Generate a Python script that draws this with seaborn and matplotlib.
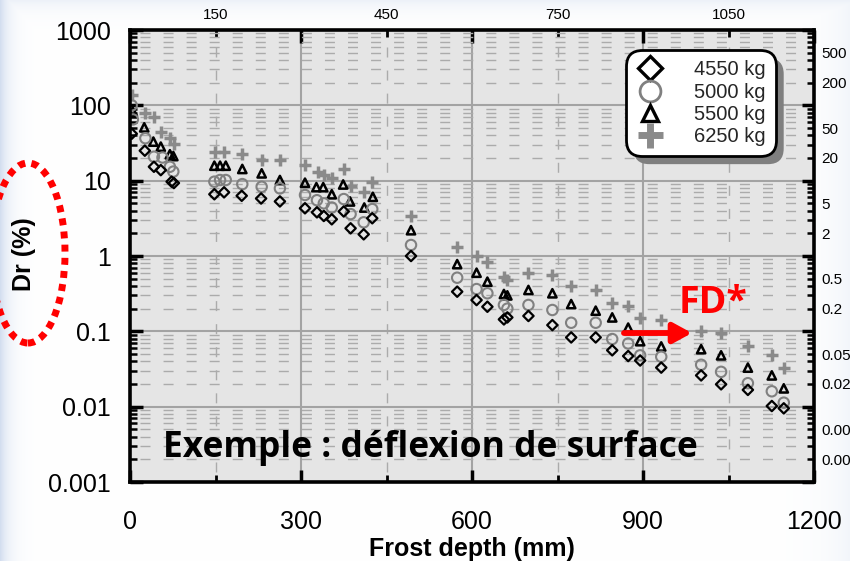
import numpy as np
import matplotlib
matplotlib.use("Agg")
import matplotlib.pyplot as plt
import seaborn as sns
from matplotlib.lines import Line2D
from matplotlib.patches import Ellipse, FancyBboxPatch
from matplotlib.ticker import LogLocator, NullFormatter, NullLocator
from matplotlib.transforms import IdentityTransform

# Deflection ratio Dr (%) against frost depth (mm), one series per axle load
depth_4550 = [3, 26, 42, 54, 73, 77, 148, 165, 196, 230, 263, 307, 328, 340, 354, 375, 387, 410, 425, 493,
              574, 608, 627, 656, 662, 699, 741, 774, 817, 846, 874, 895, 932, 1002, 1037, 1084, 1126, 1147]
dr_4550 = [42, 25, 15.3, 13.8, 9.7, 9.3, 6.6, 7.0, 6.3, 5.8, 5.3, 4.3, 3.8, 3.4, 3.07, 3.9, 2.33, 1.94, 3.17, 1.0,
           0.336, 0.26, 0.212, 0.144, 0.153, 0.16, 0.121, 0.083, 0.083, 0.056, 0.047, 0.041, 0.033, 0.026,
           0.0198, 0.0167, 0.0102, 0.0095]

depth_5000 = [3, 5, 27, 42, 57, 70, 76, 148, 158, 168, 197, 231, 263, 307, 328, 340, 354, 375, 387, 410, 425, 493,
              574, 608, 627, 656, 662, 699, 741, 774, 817, 846, 874, 895, 932, 1002, 1037, 1084, 1126, 1147]
dr_5000 = [100, 65, 36.6, 20.8, 20.3, 15.3, 13.2, 9.7, 10.2, 10.2, 9.0, 8.3, 7.9, 6.45, 5.5, 5.0, 4.4, 5.7, 3.6,
           2.8, 4.2, 1.4, 0.515, 0.364, 0.32, 0.224, 0.20, 0.224, 0.192, 0.13, 0.13, 0.079, 0.069, 0.048, 0.046,
           0.036, 0.029, 0.0205, 0.016, 0.0113]

depth_5500 = [5, 25, 41, 54, 70, 76, 148, 158, 168, 197, 231, 263, 307, 327, 339, 354, 374, 386, 411, 426, 493,
              574, 608, 627, 656, 662, 699, 741, 774, 817, 846, 874, 895, 932, 1002, 1037, 1084, 1126, 1147]
dr_5500 = [82, 51, 33, 28.3, 22.4, 21.2, 15.8, 15.8, 15.8, 14.3, 12.5, 10.2, 9.4, 8.2, 8.2, 6.6, 8.9, 5.3, 4.4,
           6.1, 2.2, 0.78, 0.60, 0.456, 0.313, 0.30, 0.354, 0.32, 0.23, 0.188, 0.153, 0.112, 0.074, 0.063,
           0.058, 0.048, 0.033, 0.026, 0.0175]

depth_6250 = [3, 26, 42, 54, 70, 77, 149, 165, 197, 231, 263, 307, 330, 341, 354, 376, 388, 410, 425, 493,
              574, 608, 627, 656, 662, 699, 741, 774, 817, 846, 874, 895, 932, 1002, 1037, 1084, 1126, 1147]
dr_6250 = [137, 78, 71, 44, 36.5, 30.6, 24.3, 24.3, 22.6, 18.8, 18.8, 16.2, 13.2, 11.9, 10.7, 14.4, 8.4, 7.0,
           9.6, 3.4, 1.33, 1.0, 0.82, 0.53, 0.48, 0.59, 0.56, 0.40, 0.35, 0.24, 0.22, 0.15, 0.141, 0.102,
           0.094, 0.063, 0.048, 0.033]

load_labels = ["4550 kg", "5000 kg", "5500 kg", "6250 kg"]

x_ticks = [0, 300, 600, 900, 1200]
x_top_ticks = [150, 450, 750, 1050]
y_ticks = [1e-3, 1e-2, 1e-1, 1, 10, 100, 1000]
y_tick_labels = ["0.001", "0.01", "0.1", "1", "10", "100", "1000"]
y_right_ticks = [500, 200, 50, 20, 5, 2, 0.5, 0.2, 0.05, 0.02, 0.005, 0.002]
y_right_labels = ["500", "200", "50", "20", "5", "2", "0.5", "0.2", "0.05", "0.02", "0.005", "0.002"]

sns.set_theme(style="white")
plt.rcParams["font.family"] = ["Liberation Sans", "DejaVu Sans"]

W, H = 850, 561
fig = plt.figure(figsize=(W / 100, H / 100), dpi=100)

# soft snowy backdrop, bluish towards the edges
bg = fig.add_axes([0, 0, 1, 1], zorder=-10)
gx, gy = np.meshgrid(np.arange(W), np.arange(H))
shade = np.maximum.reduce([
    0.85 * np.exp(-gx / 9.0),
    0.35 * np.exp(-gy / 10.0),
    0.25 * np.exp(-(W - 1 - gx) / 25.0),
])
base = np.array([1.0, 1.0, 1.0])
tint = np.array([0.80, 0.85, 0.93])
img = base[None, None, :] * (1 - shade[..., None]) + tint[None, None, :] * shade[..., None]
bg.imshow(img, aspect="auto", extent=(0, 1, 0, 1), origin="upper")
bg.axis("off")

ax = fig.add_axes([130 / W, 1 - 482 / H, 684 / W, 452 / H])
ax.set_facecolor("#e5e5e5")
ax.set_yscale("log")
ax.set_xlim(0, 1200)
ax.set_ylim(1e-3, 1e3)

# points
styles = [
    (depth_6250, dr_6250, "+", "#8a8a8a", 64, 2.5, False),
    (depth_5500, dr_5500, "^", "black", 36, 1.8, True),
    (depth_5000, dr_5000, "o", "#808080", 56, 1.5, True),
    (depth_4550, dr_4550, "D", "black", 28, 1.6, True),
]
for xs, ys, mk, col, size, lw, filled in styles:
    if filled:
        sns.scatterplot(x=xs, y=ys, marker=mk, s=size, color=col, facecolor="none",
                        edgecolor=col, linewidth=lw, ax=ax, legend=False, zorder=3)
    else:
        sns.scatterplot(x=xs, y=ys, marker=mk, s=size, color=col, linewidth=lw,
                        ax=ax, legend=False, zorder=3)
ax.set_xlabel("")
ax.set_ylabel("")

# grid: solid at decades / 300 mm, dashed at log minors / 150 mm offsets
ax.set_axisbelow(True)
ax.set_xticks(x_ticks, labels=[str(v) for v in x_ticks])
ax.set_xticks(x_top_ticks, labels=[str(v) for v in x_top_ticks], minor=True)
ax.set_yticks(y_ticks, labels=y_tick_labels)
ax.yaxis.set_minor_locator(LogLocator(base=10, subs=np.arange(2, 10), numticks=20))
ax.yaxis.set_minor_formatter(NullFormatter())
ax.grid(which="major", color="#a3a3a3", linewidth=1.5, linestyle="-")
ax.grid(which="minor", color="#ababab", linewidth=1.0, linestyle=(9.4, (7.2, 9.4)))

# right-hand secondary labels
ax2 = ax.twinx()
ax2.set_yscale("log")
ax2.set_ylim(1e-3, 1e3)
ax2.set_yticks(y_right_ticks, labels=y_right_labels)
ax2.yaxis.set_minor_locator(NullLocator())
ax2.tick_params(axis="y", length=0, labelsize=11, pad=5, colors="black")
ax2.grid(False)
for s in ax2.spines.values():
    s.set_visible(False)

ax.tick_params(axis="y", which="major", direction="in", length=9, width=2.5, left=True, right=True,
               labelleft=True, labelright=False, labelsize=18, pad=14, colors="black")
ax.tick_params(axis="y", which="minor", direction="in", length=5, width=1.8, left=True, right=True,
               colors="black")
ax.tick_params(axis="x", which="major", direction="in", length=9, width=2.5, top=True, bottom=True,
               labelbottom=True, labeltop=False, labelsize=18, pad=20, colors="black")
ax.tick_params(axis="x", which="minor", direction="in", length=5, width=2, top=True, bottom=True,
               labelbottom=False, labeltop=True, labelsize=11, pad=6, colors="black")
for s in ax.spines.values():
    s.set_visible(True)
    s.set_color("black")
    s.set_linewidth(2.6)
    s.set_zorder(10)

ax.set_xlabel("Frost depth (mm)", fontsize=18, fontweight="bold", color="black")
ax.xaxis.set_label_coords(0.5, -0.122)
ax.set_ylabel("Dr (%)", fontsize=18, fontweight="bold", color="black")
ax.yaxis.set_label_coords(-0.137, 0.505)

# legend
handles = [
    Line2D([], [], ls="none", marker="D", ms=12, mfc="none", mec="black", mew=2.4),
    Line2D([], [], ls="none", marker="o", ms=15, mfc="none", mec="#808080", mew=2.0),
    Line2D([], [], ls="none", marker="^", ms=12, mfc="none", mec="black", mew=2.4),
    Line2D([], [], ls="none", marker="+", ms=18, mec="#8a8a8a", mew=5),
]
leg = ax.legend(handles, load_labels, loc="upper right", bbox_to_anchor=(0.944, 0.955),
                fontsize=14.5, frameon=True, fancybox=True, framealpha=1, edgecolor="black",
                facecolor="white", borderpad=0.5, labelspacing=0.16, handlelength=1.4,
                handletextpad=1.5, borderaxespad=0)
leg.get_frame().set_linewidth(2)
leg.get_frame().set_boxstyle("round,pad=0,rounding_size=0.8")
leg.set_zorder(8)

# annotations
ax.text(0.4386, 0.055, "Exemple : déflexion de surface", transform=ax.transAxes, ha="center",
        va="baseline", fontsize=25.5, fontweight="bold", family=["Open Sans", "DejaVu Sans"],
        color="black", zorder=9)
ax.text(0.852, 0.374, "FD*", transform=ax.transAxes, ha="center", va="baseline", fontsize=27,
        fontweight="bold", family=["Open Sans", "DejaVu Sans"], color="#ff0000", zorder=9)
ax.annotate("", xy=(0.8216, 0.3296), xytext=(0.7222, 0.3296), xycoords="axes fraction",
            textcoords="axes fraction",
            arrowprops=dict(arrowstyle="-|>,head_length=0.55,head_width=0.3", lw=4.2,
                            color="#ff0000", mutation_scale=20, shrinkA=0, shrinkB=0),
            zorder=9)

fig.add_artist(Ellipse((28 / W, 1 - 253 / H), 74 / W, 180 / H, transform=fig.transFigure, fill=False,
                       edgecolor="#ff0000", linewidth=5, linestyle=(0, (1.0, 0.9)), capstyle="butt"))

# drop shadow behind the legend box
fig.canvas.draw()
bb = leg.get_window_extent()
shadow = FancyBboxPatch((bb.x0 + 8, bb.y0 - 8), bb.width, bb.height,
                        boxstyle="round,pad=0,rounding_size=15.6", transform=IdentityTransform(),
                        facecolor="#7f7f7f", edgecolor="none", zorder=7.5)
ax.add_artist(shadow)

fig.savefig("out.png", dpi=100)
